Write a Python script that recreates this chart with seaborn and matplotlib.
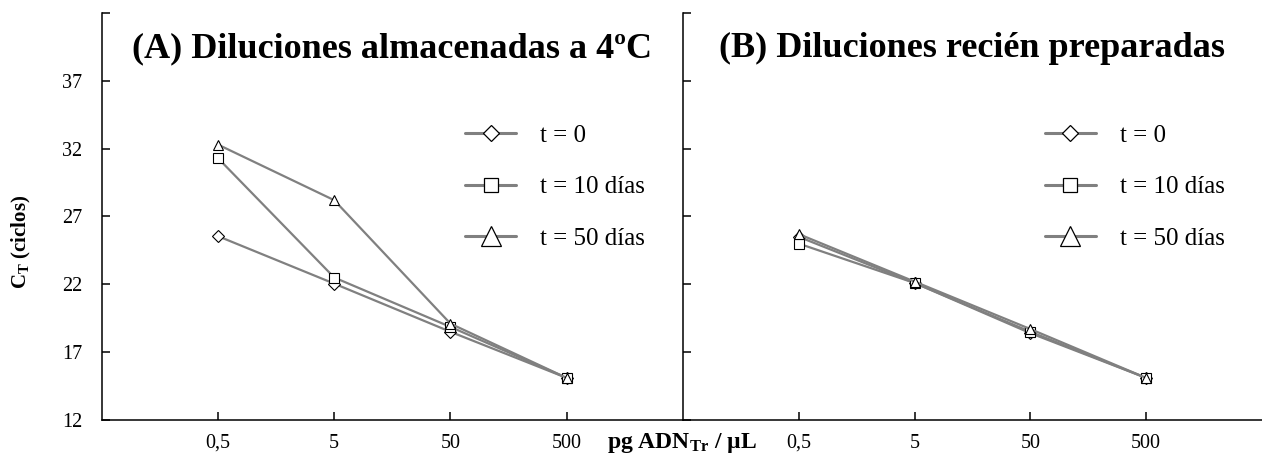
import matplotlib
matplotlib.use("Agg")
import matplotlib.pyplot as plt
import seaborn as sns
import pandas as pd
from matplotlib.lines import Line2D

# ---- data ----
categories = ["0,5", "5", "50", "500"]
series_labels = ["t = 0", "t = 10 días", "t = 50 días"]
panel_a_t0 = [25.55, 22.05, 18.5, 15.1]
panel_a_t10 = [31.3, 22.5, 18.86, 15.1]
panel_a_t50 = [32.3, 28.2, 19.1, 15.1]
panel_b_t0 = [25.5, 22.1, 18.4, 15.1]
panel_b_t10 = [25.0, 22.1, 18.5, 15.1]
panel_b_t50 = [25.7, 22.2, 18.7, 15.1]
y_ticks = [12, 17, 22, 27, 32, 37, 42]
y_ticklabels = ["12", "17", "22", "27", "32", "37", ""]
title_a = "(A) Diluciones almacenadas a 4ºC"
title_b = "(B) Diluciones recién preparadas"

sns.set_style("ticks")
plt.rcParams["font.family"] = ["Liberation Serif", "DejaVu Serif"]
plt.rcParams["mathtext.fontset"] = "custom"
plt.rcParams["mathtext.rm"] = "Liberation Serif"
plt.rcParams["mathtext.bf"] = "Liberation Serif:bold"
plt.rcParams["mathtext.it"] = "Liberation Serif:italic"
for k in ["text.color", "axes.labelcolor", "xtick.color", "ytick.color",
          "xtick.labelcolor", "ytick.labelcolor"]:
    plt.rcParams[k] = "black"

LINE = "#808080"
markers = ["D", "s", "^"]
msizes = [6.0, 7.2, 7.6]
leg_sizes = [7.8, 10.5, 14.5]


def build(vals):
    rows = []
    for lab, v in zip(series_labels, vals):
        for i, (c, y) in enumerate(zip(categories, v)):
            rows.append({"pos": i, "cat": c, "ct": y, "serie": lab})
    return pd.DataFrame(rows)


df_a = build([panel_a_t0, panel_a_t10, panel_a_t50])
df_b = build([panel_b_t0, panel_b_t10, panel_b_t50])

fig = plt.figure(figsize=(12.62, 4.59), dpi=100)
ax_a = fig.add_axes([0.0806, 0.085, 0.4606, 0.8867])
ax_b = fig.add_axes([0.5412, 0.085, 0.4588, 0.8867])

for ax, df, title in [(ax_a, df_a, title_a), (ax_b, df_b, title_b)]:
    for lab, mk, ms in zip(series_labels, markers, msizes):
        sub = df[df["serie"] == lab]
        sns.lineplot(data=sub, x="pos", y="ct", ax=ax, sort=False,
                     color=LINE, lw=1.6, marker=mk, markersize=ms,
                     markerfacecolor="white", markeredgecolor="black",
                     markeredgewidth=0.8, legend=False)
    ax.set_xlim(-1, 4)
    ax.set_ylim(12, 42)
    ax.set_xticks(range(len(categories)))
    ax.set_xticklabels(categories)
    ax.set_yticks(y_ticks)
    ax.set_xlabel("")
    ax.set_ylabel("")
    ax.tick_params(axis="both", direction="in", length=6, width=1.1,
                   labelsize=14.5, color="black", labelcolor="black")
    ax.tick_params(axis="x", pad=10)
    ax.tick_params(axis="y", pad=14)
    for s in ["top", "right"]:
        ax.spines[s].set_visible(False)
    for s in ["left", "bottom"]:
        ax.spines[s].set_linewidth(1.1)
        ax.spines[s].set_color("black")
    ax.set_facecolor("white")
    ax.text(0.5, 0.912, title, transform=ax.transAxes, ha="center",
            va="center", fontsize=26, fontweight="bold", color="black")
    handles = [Line2D([], [], color=LINE, lw=2.2, marker=mk, markersize=ls,
                      markerfacecolor="white", markeredgecolor="black",
                      markeredgewidth=0.9)
               for mk, ls in zip(markers, leg_sizes)]
    ax.legend(handles, series_labels, loc="center left",
              bbox_to_anchor=(0.625, 0.572), frameon=False, fontsize=18,
              borderpad=0, borderaxespad=0, handlelength=2.05,
              handletextpad=0.95, labelspacing=1.17, labelcolor="black")

ax_a.set_yticklabels(y_ticklabels)
ax_b.set_yticklabels([])

fig.text(0.0174, 0.473, r"C$_{\mathbf{T}}$ (ciclos)", rotation=90,
         ha="center", va="center", fontsize=15, fontweight="bold")
fig.text(607 / 1262, 1 - 448 / 459, r"pg ADN$_{\mathbf{Tr}}$ / µL",
         ha="left", va="baseline", fontsize=17, fontweight="bold")

fig.savefig("out.png", dpi=100, facecolor="white")
